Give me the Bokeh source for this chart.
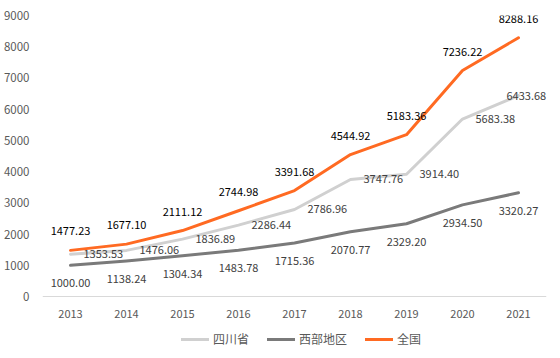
from bokeh.plotting import figure
from bokeh.models import Range1d, FactorRange, Legend, LegendItem, ColumnDataSource, FixedTicker
from bokeh.core.properties import value
from bokeh.embed import file_html
from bokeh.resources import INLINE

years = ["2013", "2014", "2015", "2016", "2017", "2018", "2019", "2020", "2021"]
sichuan = [1353.53, 1476.06, 1836.89, 2286.44, 2786.96, 3747.76, 3914.40, 5683.38, 6433.68]
west = [1000.00, 1138.24, 1304.34, 1483.78, 1715.36, 2070.77, 2329.20, 2934.50, 3320.27]
nation = [1477.23, 1677.10, 2111.12, 2744.98, 3391.68, 4544.92, 5183.36, 7236.22, 8288.16]
y_ticks = [0, 1000, 2000, 3000, 4000, 5000, 6000, 7000, 8000, 9000]

FONT = "Noto Sans CJK SC"
C_SC = "#d0d0d0"
C_WEST = "#7a7a7a"
C_NAT = "#ff6a22"

p = figure(width=552, height=350, x_range=FactorRange(*years), y_range=Range1d(-1730, 9000),
           output_backend="svg", toolbar_location=None,
           min_border_left=42, min_border_right=6, min_border_top=15, min_border_bottom=0)
p.outline_line_color = None
p.xgrid.grid_line_color = None
p.ygrid.grid_line_color = None

p.yaxis.ticker = FixedTicker(ticks=y_ticks)
p.yaxis.axis_line_color = None
p.yaxis.major_tick_line_color = None
p.yaxis.minor_tick_line_color = None
p.yaxis.major_label_text_font = FONT
p.yaxis.major_label_text_font_size = "11.5px"
p.yaxis.major_label_text_color = "#595959"
p.yaxis.major_label_standoff = 7

p.xaxis.fixed_location = 0
p.xaxis.axis_line_color = "#d9d9d9"
p.xaxis.axis_line_width = 1
p.xaxis.major_tick_line_color = None
p.xaxis.minor_tick_line_color = None
p.xaxis.major_label_text_font = FONT
p.xaxis.major_label_text_font_size = "11px"
p.xaxis.major_label_text_color = "#595959"
p.xaxis.major_label_standoff = 8

src = ColumnDataSource(dict(
    x=years, sc=sichuan, we=west, na=nation,
    sc_t=["%.2f" % v for v in sichuan],
    we_t=["%.2f" % v for v in west],
    na_t=["%.2f" % v for v in nation],
))
src_sc_a = ColumnDataSource(dict(x=years[:-1], y=sichuan[:-1], t=["%.2f" % v for v in sichuan[:-1]]))
src_sc_b = ColumnDataSource(dict(x=years[-1:], y=sichuan[-1:], t=["%.2f" % v for v in sichuan[-1:]]))

r_sc = p.line("x", "sc", source=src, line_color=C_SC, line_width=3, line_join="round", line_cap="round")
r_we = p.line("x", "we", source=src, line_color=C_WEST, line_width=3, line_join="round", line_cap="round")
r_na = p.line("x", "na", source=src, line_color=C_NAT, line_width=3, line_join="round", line_cap="round")

p.text("x", "y", text="t", source=src_sc_a, x_offset=13, y_offset=0, text_align="left",
       text_baseline="middle", text_font=value(FONT), text_font_size="11px", text_color="#404040")
p.text("x", "y", text="t", source=src_sc_b, x_offset=-12, y_offset=0, text_align="left",
       text_baseline="middle", text_font=value(FONT), text_font_size="11px", text_color="#404040")
p.text("x", "we", text="we_t", source=src, x_offset=0, y_offset=18, text_align="center",
       text_baseline="middle", text_font=value(FONT), text_font_size="11px", text_color="#404040")
p.text("x", "na", text="na_t", source=src, x_offset=0, y_offset=-19, text_align="center",
       text_baseline="middle", text_font=value(FONT), text_font_size="11px", text_color="#000000")

legend = Legend(items=[LegendItem(label="四川省", renderers=[r_sc]),
                       LegendItem(label="西部地区", renderers=[r_we]),
                       LegendItem(label="全国", renderers=[r_na])],
                orientation="horizontal", location=(139, 3),
                label_text_font=FONT, label_text_font_size="12px", label_text_color="#595959",
                glyph_width=28, glyph_height=10, spacing=18, label_standoff=4,
                border_line_color=None, background_fill_alpha=0, padding=2, margin=0)
p.add_layout(legend, "center")

open("out.html", "w").write(file_html(p, INLINE))
